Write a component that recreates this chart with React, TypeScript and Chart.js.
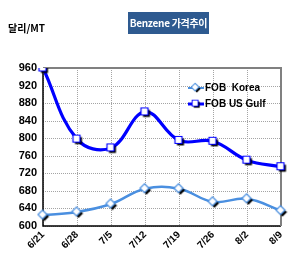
import React, { useEffect, useRef } from "react";
import { Chart, registerables } from "chart.js";

Chart.register(...registerables);

const categories = ["6/21", "6/28", "7/5", "7/12", "7/19", "7/26", "8/2", "8/9"];
const fobKorea = [625, 632, 650, 685, 685, 655, 662, 635];
const fobUsGulf = [960, 798, 778, 860, 795, 793, 750, 735];
const yTicks = [600, 640, 680, 720, 760, 800, 840, 880, 920, 960];
const seriesNames = ["FOB  Korea", "FOB US Gulf"];
const titleText = "Benzene 가격추이";
const unitText = "달리/MT";

const KOREA_COLOR = "#4a8fe0";
const GULF_COLOR = "#0000ff";
const FONT = "'Liberation Sans', Arial, sans-serif";

function makeMarker(kind: "diamond" | "square", color: string): HTMLCanvasElement {
  const c = document.createElement("canvas");
  c.width = 13;
  c.height = 13;
  const ctx = c.getContext("2d")!;
  const draw = (ox: number, oy: number) => {
    ctx.beginPath();
    if (kind === "diamond") {
      ctx.moveTo(6 + ox, 1.5 + oy);
      ctx.lineTo(10.5 + ox, 6 + oy);
      ctx.lineTo(6 + ox, 10.5 + oy);
      ctx.lineTo(1.5 + ox, 6 + oy);
      ctx.closePath();
    } else {
      ctx.rect(2.5 + ox, 2.5 + oy, 7, 7);
    }
  };
  draw(2, 2);
  ctx.fillStyle = "#000";
  ctx.fill();
  draw(0, 0);
  ctx.fillStyle = "#fff";
  ctx.fill();
  ctx.lineWidth = 1.2;
  ctx.strokeStyle = color;
  ctx.stroke();
  return c;
}

export default function App() {
  const ref = useRef<HTMLCanvasElement | null>(null);
  useEffect(() => {
    const koreaMarker = makeMarker("diamond", KOREA_COLOR);
    const gulfMarker = makeMarker("square", GULF_COLOR);

    const gridPlugin = {
      id: "dotgrid",
      beforeDatasetsDraw(chart: any) {
        const { ctx, chartArea } = chart;
        const xs = chart.scales.x;
        const ys = chart.scales.y;
        ctx.save();
        ctx.strokeStyle = "#a4a4a4";
        ctx.lineWidth = 1;
        ctx.setLineDash([1, 1]);
        categories.forEach((_, i) => {
          const x = Math.round(xs.getPixelForTick(i)) + 0.5;
          ctx.beginPath();
          ctx.moveTo(x, chartArea.top);
          ctx.lineTo(x, chartArea.bottom);
          ctx.stroke();
        });
        yTicks.forEach((v) => {
          const y = Math.round(ys.getPixelForValue(v)) + 0.5;
          ctx.beginPath();
          ctx.moveTo(chartArea.left, y);
          ctx.lineTo(chartArea.right, y);
          ctx.stroke();
        });
        ctx.setLineDash([]);
        ctx.strokeStyle = "#000";
        ctx.lineWidth = 1.5;
        ctx.beginPath();
        ctx.moveTo(chartArea.left, chartArea.top);
        ctx.lineTo(chartArea.left, chartArea.bottom);
        ctx.lineTo(chartArea.right, chartArea.bottom);
        ctx.stroke();
        ctx.strokeStyle = "#808080";
        ctx.lineWidth = 2;
        ctx.beginPath();
        ctx.moveTo(chartArea.left, chartArea.top);
        ctx.lineTo(chartArea.right, chartArea.top);
        ctx.lineTo(chartArea.right, chartArea.bottom);
        ctx.stroke();
        ctx.restore();
      },
      afterDraw(chart: any) {
        const { ctx } = chart;
        ctx.save();
        const items = [
          { name: seriesNames[0], color: KOREA_COLOR, marker: koreaMarker, y: 88, w: 2 },
          { name: seriesNames[1], color: GULF_COLOR, marker: gulfMarker, y: 104, w: 3 },
        ];
        ctx.font = "bold 10px " + FONT;
        ctx.textBaseline = "middle";
        ctx.textAlign = "left";
        items.forEach((it) => {
          ctx.strokeStyle = it.color;
          ctx.lineWidth = it.w;
          ctx.beginPath();
          ctx.moveTo(188, it.y);
          ctx.lineTo(204, it.y);
          ctx.stroke();
          ctx.drawImage(it.marker, 196 - 6, it.y - 6, 11, 11);
          ctx.fillStyle = "#000";
          ctx.fillText(it.name, 205, it.y);
        });
        ctx.restore();
      },
    };

    const chart = new Chart(ref.current!, {
      type: "line",
      data: {
        labels: categories,
        datasets: [
          {
            label: seriesNames[0],
            data: fobKorea,
            borderColor: KOREA_COLOR,
            borderWidth: 2.5,
            tension: 0.4,
            pointStyle: koreaMarker as any,
            pointRadius: 6,
          },
          {
            label: seriesNames[1],
            data: fobUsGulf,
            borderColor: GULF_COLOR,
            borderWidth: 3.2,
            tension: 0.4,
            pointStyle: gulfMarker as any,
            pointRadius: 6,
          },
        ],
      },
      options: {
        animation: false,
        responsive: false,
        layout: { padding: { top: 68, right: 19, left: 0, bottom: 0 } },
        plugins: { legend: { display: false }, tooltip: { enabled: false }, title: { display: false } },
        scales: {
          x: {
            offset: false,
            grid: { display: false, drawTicks: false },
            border: { display: false },
            ticks: {
              color: "#000",
              font: { family: FONT, size: 10, weight: "bold" },
              maxRotation: 45,
              minRotation: 45,
              padding: 3,
              autoSkip: false,
            },
            afterFit(axis: any) {
              axis.height = 37;
            },
          },
          y: {
            min: 600,
            max: 960,
            afterBuildTicks(axis: any) {
              axis.ticks = yTicks.map((v) => ({ value: v }));
            },
            grid: { display: false, drawTicks: false },
            border: { display: false },
            ticks: {
              color: "#000",
              font: { family: FONT, size: 11, weight: "bold" },
              padding: 6,
            },
            afterFit(axis: any) {
              axis.width = 43;
            },
          },
        },
      },
      plugins: [gridPlugin],
    } as any);
    return () => chart.destroy();
  }, []);

  return (
    <div style={{ position: "absolute", left: 0, top: 0, width: 300, height: 263, background: "#fff" }}>
      <canvas ref={ref} width={300} height={263} style={{ display: "block", width: 300, height: 263 }} />
      <div
        style={{
          position: "absolute",
          left: 8,
          top: 21,
          fontFamily: "'Noto Sans CJK KR', sans-serif",
          fontWeight: "bold",
          fontSize: 10,
          lineHeight: "14px",
          color: "#000",
        }}
      >
        {unitText}
      </div>
      <div
        style={{
          position: "absolute",
          left: 128,
          top: 12,
          width: 81,
          height: 22,
          background: "#2e5a90",
          color: "#fff",
          fontFamily: "'Noto Sans CJK KR', sans-serif",
          fontWeight: "bold",
          fontSize: 10,
          letterSpacing: -0.3,
          lineHeight: "22px",
          textAlign: "center",
          whiteSpace: "nowrap",
          overflow: "hidden",
        }}
      >
        {titleText}
      </div>
    </div>
  );
}
